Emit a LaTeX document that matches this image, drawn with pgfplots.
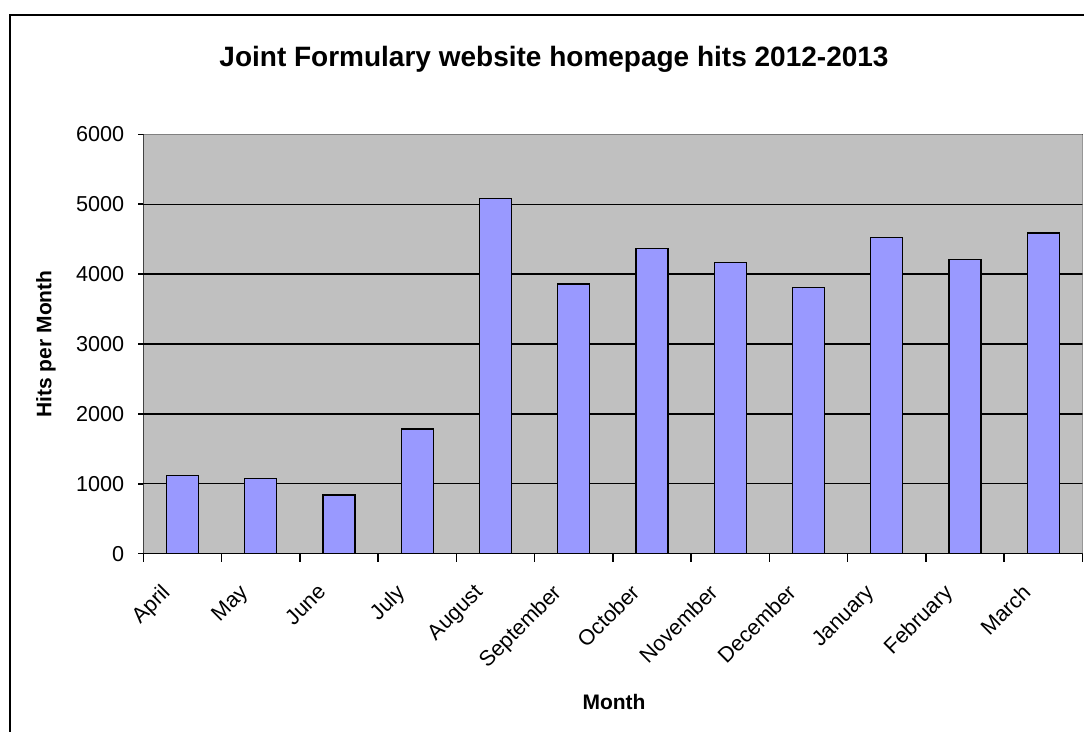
\documentclass[border=0pt]{standalone}
\usepackage{pgfplots}
\pgfplotsset{compat=1.18}
\usepackage{fontspec}
\setmainfont{Liberation Sans}
\definecolor{barblue}{HTML}{9999FF}
\definecolor{plotgray}{HTML}{C0C0C0}
\definecolor{bordergray}{HTML}{808080}
\begin{document}
\begin{tikzpicture}
\useasboundingbox (0,0) rectangle (542pt,366pt);
\clip (0,0) rectangle (542pt,366pt);
\fill[white] (0,0) rectangle (542pt,366pt);
\draw[line width=1pt] (5pt,-20pt) -- (5pt,358.5pt) -- (600pt,358.5pt);
\begin{axis}[
  at={(71.65pt,89.15pt)}, anchor=south west,
  scale only axis, width=469.6pt, height=209.7pt,
  xmin=-0.5, xmax=11.5, ymin=0, ymax=6000,
  axis background/.style={fill=plotgray},
  axis line style={draw=none},
  ytick={0,1000,...,6000},
  xtick={0,...,11},
  xticklabels={April,May,June,July,August,September,October,November,December,January,February,March},
  minor xtick={-0.5,0.5,...,11.5},
  tick pos=left,
  tick align=outside,
  major tick length=2.5pt, minor tick length=4pt,
  major x tick style={draw=none},
  tick style={black, line width=0.75pt},
  minor x tick style={black, line width=0.75pt},
  ymajorgrids, grid style={black, line width=0.65pt},
  /pgf/number format/assume math mode=true,
  /pgf/number format/1000 sep={},
  ticklabel style={font=\fontsize{10.8}{13}\selectfont},
  yticklabel style={xshift=-3.5pt},
  xticklabel style={rotate=45, anchor=north east, xshift=-13pt, yshift=2.9pt},
  title={Joint Formulary website homepage hits 2012-2013},
  title style={at={(0.4373,1.151)}, anchor=center, font=\bfseries\fontsize{14}{16}\selectfont},
  xlabel={Month},
  xlabel style={at={(0.5012,-0.3536)}, anchor=center, font=\bfseries\fontsize{10.5}{12}\selectfont},
  ylabel={Hits per Month},
  ylabel style={at={(-0.1036,0.5)}, anchor=center, font=\bfseries\fontsize{10.5}{12}\selectfont},
]
\addplot[ybar, bar width=16pt, fill=barblue, draw=black, line width=0.65pt]
  coordinates {(0,1120) (1,1075) (2,840) (3,1785) (4,5080) (5,3860) (6,4370) (7,4165) (8,3805) (9,4520) (10,4210) (11,4590)};
\draw[bordergray, line width=0.9pt] (rel axis cs:0,1) -- (rel axis cs:1,1) -- (rel axis cs:1,0);
\draw[black, line width=0.75pt] (rel axis cs:0,1) -- (rel axis cs:0,0) -- (rel axis cs:1,0);
\end{axis}
\end{tikzpicture}
\end{document}
